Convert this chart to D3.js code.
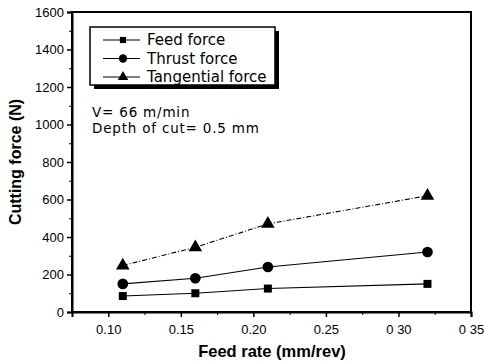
<!DOCTYPE html>
<html>
<head>
<meta charset="utf-8">
<script src="https://cdn.jsdelivr.net/npm/d3@7"></script>
<style>
  body { margin: 0; background: #fff; }
  text { font-family: "Liberation Sans", Arial, sans-serif; fill: #000; }
  .note { font-family: "DejaVu Sans", sans-serif; }
</style>
</head>
<body>
<div id="chart"></div>
<script>
// data
var feedRate = [0.11, 0.16, 0.21, 0.32];
var feedForce = [85, 100, 125, 150];
var thrustForce = [150, 180, 240, 320];
var tangentialForce = [248, 345, 470, 620];
var seriesNames = ["Feed force", "Thrust force", "Tangential force"];
var xTickValues = [0.10, 0.15, 0.20, 0.25, 0.30, 0.35];
var xTickLabels = ["0.10", "0.15", "0.20", "0.25", "0 30", "0 35"];
var yTickValues = [0, 200, 400, 600, 800, 1000, 1200, 1400, 1600];

var svgWidth = 485, svgHeight = 364;
var margin = { top: 12, right: 14, bottom: 52, left: 72 };
var width = svgWidth - margin.left - margin.right;
var height = svgHeight - margin.top - margin.bottom;

var svg = d3.select("#chart").append("svg")
  .attr("width", svgWidth)
  .attr("height", svgHeight);

var chartGroup = svg.append("g")
  .attr("transform", `translate(${margin.left}, ${margin.top})`);

var x = d3.scaleLinear().domain([0.075, 0.35]).range([0, width]);
var y = d3.scaleLinear().domain([0, 1600]).range([height, 0]);

// frame
chartGroup.append("rect")
  .attr("width", width).attr("height", height)
  .attr("fill", "none").attr("stroke", "#000").attr("stroke-width", 2);

// minor ticks
chartGroup.append("g")
  .attr("transform", `translate(0, ${height})`)
  .call(d3.axisBottom(x).tickValues(d3.range(0.125, 0.35, 0.05)).tickSize(3).tickFormat(""))
  .call(g => g.select(".domain").remove());
chartGroup.append("g")
  .call(d3.axisLeft(y).tickValues(d3.range(100, 1600, 200)).tickSize(3).tickFormat(""))
  .call(g => g.select(".domain").remove());

// major axes
var xAxis = chartGroup.append("g")
  .attr("transform", `translate(0, ${height})`)
  .call(d3.axisBottom(x).tickValues(xTickValues).tickSize(5).tickPadding(8)
    .tickFormat((d, i) => xTickLabels[i]));
var yAxis = chartGroup.append("g")
  .call(d3.axisLeft(y).tickValues(yTickValues).tickSize(5).tickPadding(3).tickFormat(d3.format("d")));

[xAxis, yAxis].forEach(function(a) {
  a.select(".domain").attr("stroke-width", 2);
  a.selectAll(".tick line").attr("stroke-width", 1.5);
  a.selectAll("text").attr("font-size", "13px").attr("fill", "#000");
});

// lines and markers
var series = [
  { name: seriesNames[0], values: feedForce, shape: d3.symbolSquare, size: 64, dash: null },
  { name: seriesNames[1], values: thrustForce, shape: d3.symbolCircle, size: 90, dash: null },
  { name: seriesNames[2], values: tangentialForce, shape: d3.symbolTriangle, size: 80, dash: "5,2,1,2" }
];

var line = d3.line()
  .x((d, i) => x(feedRate[i]))
  .y(d => y(d));

series.forEach(function(s) {
  chartGroup.append("path")
    .datum(s.values)
    .attr("d", line)
    .attr("fill", "none")
    .attr("stroke", "#000")
    .attr("stroke-width", 1.1)
    .attr("stroke-dasharray", s.dash);

  chartGroup.selectAll(null)
    .data(s.values)
    .enter()
    .append("path")
    .attr("d", d3.symbol().type(s.shape).size(s.size))
    .attr("transform", (d, i) => `translate(${x(feedRate[i])}, ${y(d)})`)
    .attr("fill", "#000");
});

// legend
var legend = svg.append("g").attr("transform", "translate(90, 27)");
legend.append("rect")
  .attr("x", 4).attr("y", 4).attr("width", 185).attr("height", 58)
  .attr("fill", "#000");
legend.append("rect")
  .attr("width", 185).attr("height", 58)
  .attr("fill", "#fff").attr("stroke", "#000").attr("stroke-width", 1.5);

series.forEach(function(s, i) {
  var row = legend.append("g").attr("transform", `translate(0, ${13 + i * 18.5})`);
  row.append("line")
    .attr("x1", 13).attr("x2", 50)
    .attr("stroke", "#000").attr("stroke-width", 1.2);
  row.append("path")
    .attr("d", d3.symbol().type(s.shape).size(s.size * 0.6))
    .attr("transform", "translate(33, 0)")
    .attr("fill", "#000");
  row.append("text")
    .attr("class", "note")
    .attr("x", 57).attr("dy", "0.36em")
    .attr("font-size", "15px")
    .text(s.name);
});

// conditions
svg.append("text").attr("class", "note").attr("x", 92).attr("y", 117)
  .attr("font-size", "13.5px").attr("letter-spacing", "0.8px").text("V= 66 m/min");
svg.append("text").attr("class", "note").attr("x", 92).attr("y", 132.8)
  .attr("font-size", "13.5px").attr("letter-spacing", "0.8px").text("Depth of cut= 0.5 mm");

// axis titles
svg.append("text")
  .attr("transform", `translate(21, ${margin.top + height / 2}) rotate(-90)`)
  .attr("text-anchor", "middle")
  .attr("font-size", "16px")
  .attr("font-weight", "bold")
  .text("Cutting force (N)");

svg.append("text")
  .attr("x", 272).attr("y", 357)
  .attr("text-anchor", "middle")
  .attr("font-size", "16.5px")
  .attr("font-weight", "bold")
  .text("Feed rate (mm/rev)");
</script>
</body>
</html>
